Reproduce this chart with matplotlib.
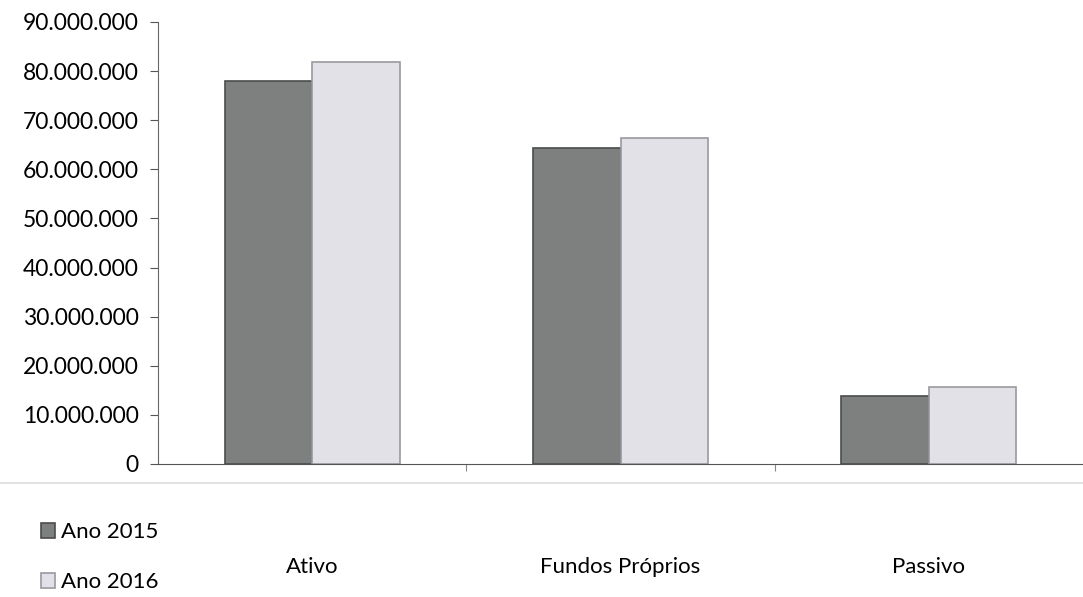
import numpy as np
import matplotlib.pyplot as plt
from matplotlib.ticker import FuncFormatter, FixedLocator
from matplotlib.lines import Line2D

categories = ['Ativo', 'Fundos Próprios', 'Passivo']
ano_2015 = [78000000, 64300000, 13900000]
ano_2016 = [81900000, 66400000, 15700000]
series_names = ['Ano 2015', 'Ano 2016']

plt.rcParams['font.family'] = ['Lato', 'DejaVu Sans']

fig = plt.figure(figsize=(10.83, 5.97), dpi=100)
ax = fig.add_axes([0.146, 0.2228, 0.854, 0.7405])

x = np.arange(len(categories))
w = 0.284
b1 = ax.bar(x - w/2, ano_2015, w, color='#7d807e', edgecolor='#4a4d4b', linewidth=1.2, label=series_names[0])
b2 = ax.bar(x + w/2, ano_2016, w, color='#e2e1e8', edgecolor='#9a9a9e', linewidth=1.2, label=series_names[1])

ax.set_xlim(-0.5, 2.5)
ax.set_ylim(0, 90000000)
ax.yaxis.set_major_locator(FixedLocator(np.arange(0, 90000001, 10000000)))
ax.yaxis.set_major_formatter(FuncFormatter(lambda v, p: f"{v:,.0f}".replace(",", ".")))
ax.tick_params(axis='y', labelsize=16.5, length=6, width=0.8, color='#555555', pad=8)

ax.set_xticks(x)
ax.set_xticklabels(categories)
ax.tick_params(axis='x', which='major', length=0, labelsize=16, pad=67)
ax.set_xticks([0.5, 1.5], minor=True)
ax.tick_params(axis='x', which='minor', length=5, width=0.8, color='#888888')

for s in ['top', 'right']:
    ax.spines[s].set_visible(False)
ax.spines['left'].set_color('#666666')
ax.spines['bottom'].set_color('#555555')

# faint separator line below the plot area
fig.add_artist(Line2D([0, 1], [0.191, 0.191], color='#dddddd', linewidth=1.2))

fig.legend(handles=[b1, b2], labels=series_names, loc='upper left',
           bbox_to_anchor=(0.03, 0.14),
           frameon=False, fontsize=16, handlelength=0.6, handleheight=0.6,
           handletextpad=0.3, labelspacing=1.35, borderaxespad=0)

fig.savefig('out.png', dpi=100)
